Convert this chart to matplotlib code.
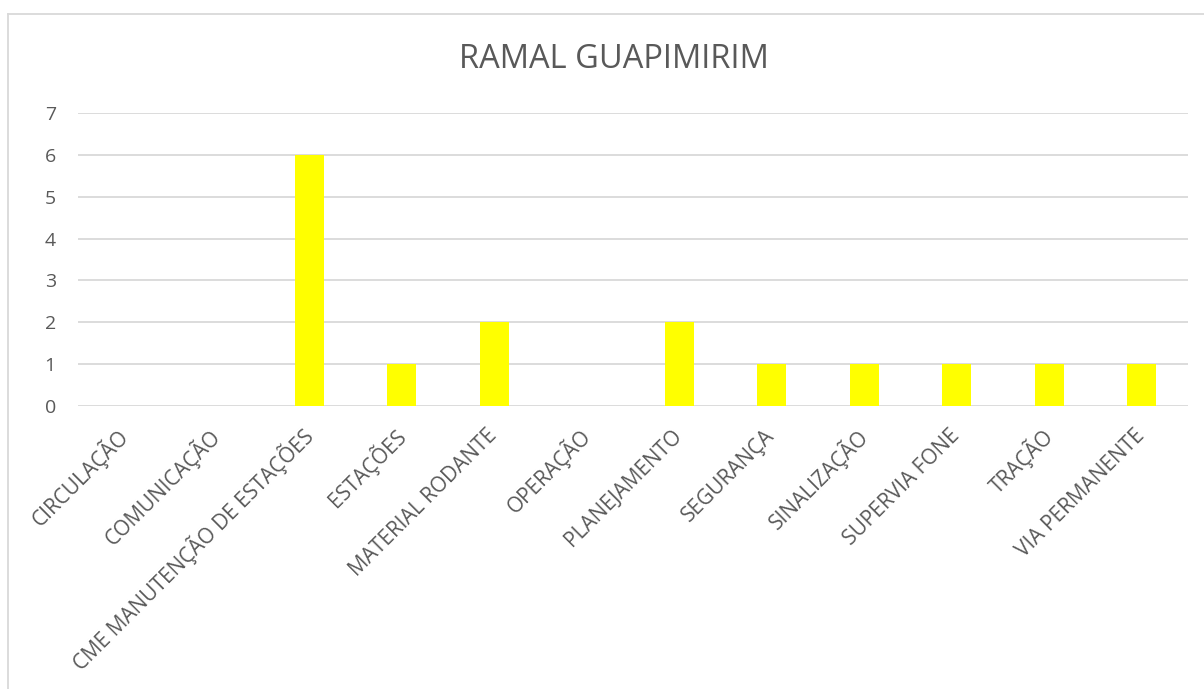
import matplotlib.pyplot as plt
from matplotlib.lines import Line2D

# data
categories = ["CIRCULAÇÃO", "COMUNICAÇÃO", "CME MANUTENÇÃO DE ESTAÇÕES", "ESTAÇÕES",
              "MATERIAL RODANTE", "OPERAÇÃO", "PLANEJAMENTO", "SEGURANÇA",
              "SINALIZAÇÃO", "SUPERVIA FONE", "TRAÇÃO", "VIA PERMANENTE"]
values = [0, 0, 6, 1, 2, 0, 2, 1, 1, 1, 1, 1]
yticks = [0, 1, 2, 3, 4, 5, 6, 7]
title = "RAMAL GUAPIMIRIM"

plt.rcParams['font.family'] = ['Open Sans', 'DejaVu Sans']
txt = '#595959'

fig = plt.figure(figsize=(12.04, 6.89), dpi=100)
ax = fig.add_axes([78 / 1204, 1 - 406 / 689, 1110 / 1204, 293 / 689])

x = list(range(len(categories)))
ax.bar(x, values, width=0.31, color='#FFFF00', zorder=3)

ax.set_xlim(-0.5, len(categories) - 0.5)
ax.set_ylim(0, 7)
ax.set_yticks(yticks)
for y in yticks:
    ax.axhline(y, color='#d9d9d9', lw=1.3, zorder=1)

ax.set_xticks(x)
ax.set_xticklabels(categories, rotation=45, ha='right', va='center',
                   rotation_mode='anchor', fontsize=15, color=txt)
ax.tick_params(axis='x', length=0, pad=19)
ax.tick_params(axis='y', length=0, pad=16, labelsize=14, labelcolor=txt)
for s in ax.spines.values():
    s.set_visible(False)

fig.text(614 / 1204, 1 - 60 / 689, title, ha='center', va='center',
         fontsize=23.5, color=txt)

# chart frame (only left and top edges show in the crop)
fig.add_artist(Line2D([7.5 / 1204, 7.5 / 1204], [0, 1 - 13.5 / 689],
                      transform=fig.transFigure, color='#d9d9d9', lw=1.3))
fig.add_artist(Line2D([7.5 / 1204, 1], [1 - 13.5 / 689, 1 - 13.5 / 689],
                      transform=fig.transFigure, color='#d9d9d9', lw=1.3))

fig.savefig('out.png', dpi=100)
